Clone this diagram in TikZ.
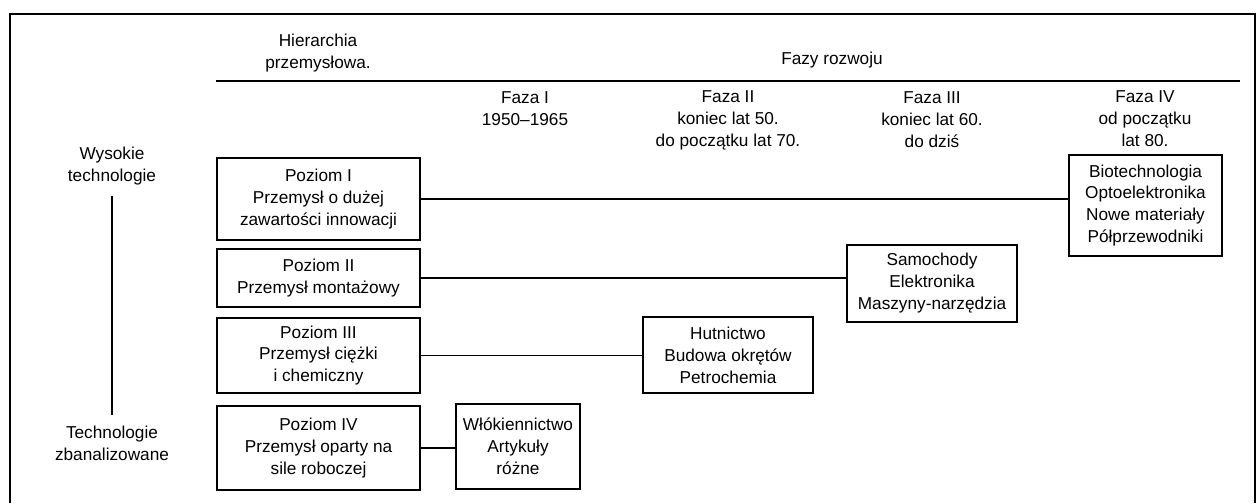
\documentclass[tikz,border=0pt]{standalone}
\usepackage{fontspec}
\setmainfont{Liberation Sans}
\usepackage{tikz}
\usetikzlibrary{positioning}
\tikzstyle{chart}=[font=\fontsize{9.8}{12.5}\selectfont, line width=0.6pt]
\tikzstyle{level}=[draw, rectangle, align=center, inner sep=2pt, minimum width=4.06cm, line width=0.75pt]
\tikzstyle{sector}=[draw, rectangle, align=center, inner sep=2pt, line width=0.75pt]
\tikzstyle{head}=[align=center, inner sep=0pt]
\tikzstyle{link}=[-, line width=0.6pt]
\tikzstyle{rule}=[-, line width=1pt]
\tikzstyle{axis}=[-, line width=0.7pt, shorten >=6pt, shorten <=6pt]

\begin{document}
\begin{tikzpicture}[chart]
	\useasboundingbox (0,0) rectangle (25.2,-10.06);
	\draw[rule] (0.2,-10.06) -- (0.2,-0.28) -- (25.1,-0.28) -- (25.1,-10.06);
	%
	\draw (6.36,-1.07) node[head] (hier) {Hierarchia\\przemysłowa.};
	\draw (16.64,-1.20) node[head] (fazy) {Fazy rozwoju};
	\coordinate (r1) at (4.32,-1.62);
	\coordinate (r2) at (24.8,-1.62);
	\draw[rule] (r1) -- (r2);
	%
	\draw (10.5,-2.18) node[head] (f1) {Faza I\\1950--1965};
	\draw (14.56,-2.40) node[head] (f2) {Faza II\\koniec lat 50.\\do początku lat 70.};
	\draw (18.64,-2.40) node[head] (f3) {Faza III\\koniec lat 60.\\do dziś};
	\draw (22.90,-2.38) node[head] (f4) {Faza IV\\od początku\\lat 80.};
	%
	\draw (2.24,-3.32) node[head] (wys) {Wysokie\\technologie};
	\draw (2.24,-8.86) node[head] (tech) {Technologie\\zbanalizowane};
	\draw[axis] (wys) -- (tech);
	%
	\draw (6.37,-3.98) node[level, minimum height=1.64cm] (p1) {Poziom I\\Przemysł o dużej\\zawartości innowacji};
	\draw (6.37,-5.56) node[level, minimum height=1.16cm] (p2) {Poziom II\\Przemysł montażowy};
	\draw (6.37,-7.11) node[level, minimum height=1.5cm] (p3) {Poziom III\\Przemysł ciężki\\i chemiczny};
	\draw (6.37,-8.96) node[level, minimum height=1.68cm] (p4) {Poziom IV\\Przemysł oparty na\\sile roboczej};
	%
	\draw (22.91,-4.11) node[sector, minimum width=3.06cm, minimum height=2.02cm] (bio) {Biotechnologia\\Optoelektronika\\Nowe materiały\\Półprzewodniki};
	\draw (18.64,-5.67) node[sector, minimum width=3.4cm, minimum height=1.54cm] (sam) {Samochody\\Elektronika\\Maszyny-narzędzia};
	\draw (14.56,-7.10) node[sector, minimum width=3.4cm, minimum height=1.52cm] (hut) {Hutnictwo\\Budowa okrętów\\Petrochemia};
	\draw (10.36,-8.93) node[sector, minimum width=2.48cm, minimum height=1.7cm] (wlo) {Włókiennictwo\\Artykuły\\różne};
	%
	\draw[link] (p1.east) -- (p1.east -| bio.west);
	\draw[link] (p2.east) -- (p2.east -| sam.west);
	\draw[link] (p3.east) -- (p3.east -| hut.west);
	\draw[link] (p4.east) -- (p4.east -| wlo.west);
\end{tikzpicture}
\end{document}
